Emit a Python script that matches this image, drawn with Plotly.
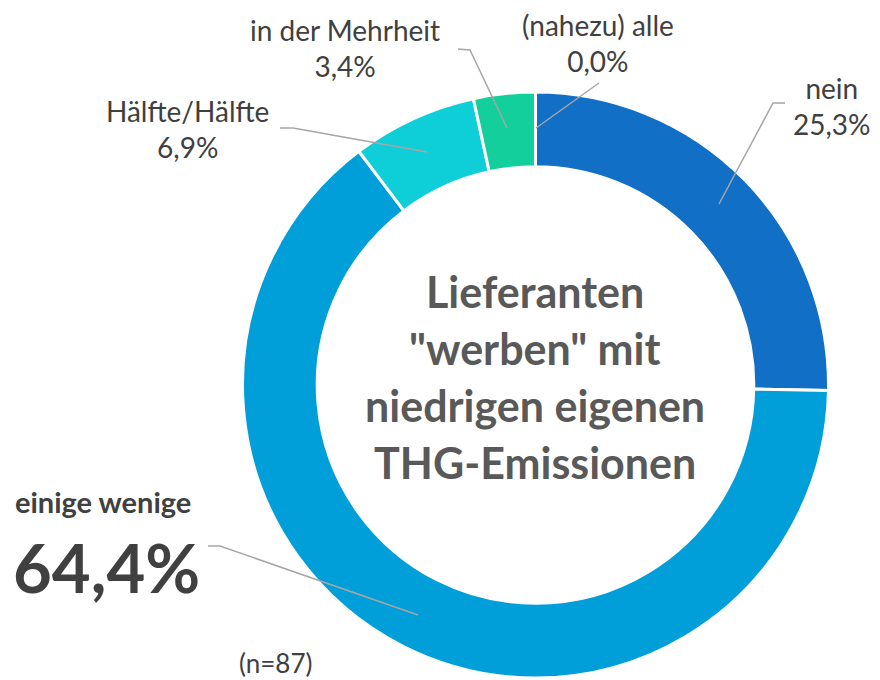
import plotly.graph_objects as go

# Survey answers (share of respondents, %)
categories = ["nein", "einige wenige", "Hälfte/Hälfte", "in der Mehrheit", "(nahezu) alle"]
shares = [25.3, 64.4, 6.9, 3.4, 0.0]
value_labels = ["25,3%", "64,4%", "6,9%", "3,4%", "0,0%"]
slice_colors = ["#116FC6", "#009FD9", "#0ECFD8", "#12CF9B", "#0B5FA8"]

center_lines = ["Lieferanten", "\"werben\" mit", "niedrigen eigenen", "THG-Emissionen"]
sample_note = "(n=87)"

W, H = 880, 680
FONT = "Lato"
TEXT = "#404040"
LEADER = "#A6A6A6"


def px(x, y):
    """Convert pixel position to paper coordinates."""
    return x / W, 1 - y / H


fig = go.Figure(
    go.Pie(
        labels=categories,
        values=shares,
        sort=False,
        direction="clockwise",
        rotation=0,
        hole=0.745,
        marker=dict(colors=slice_colors, line=dict(color="white", width=3)),
        textinfo="none",
        hoverinfo="label+percent",
        showlegend=False,
        domain=dict(x=[242 / W, 829 / W], y=[1 - 678 / H, 1 - 92 / H]),
    )
)

annotations = []


def label(x, y, text, size=28, bold=False, xanchor="center", color=TEXT):
    ax, ay = px(x, y)
    if bold:
        text = f"<b>{text}</b>"
    annotations.append(
        dict(
            x=ax, y=ay, xref="paper", yref="paper", text=text, showarrow=False,
            xanchor=xanchor, yanchor="middle", align="center",
            font=dict(family=FONT, size=size, color=color),
        )
    )


# Slice labels
label(832, 106, f"{categories[0]}<br>{value_labels[0]}")
label(187, 129, f"{categories[2]}<br>{value_labels[2]}")
label(345, 48, f"{categories[3]}<br>{value_labels[3]}")
label(598, 43, f"{categories[4]}<br>{value_labels[4]}")
label(13, 501, categories[1], size=29, bold=True, xanchor="left")
label(11, 567, value_labels[1], size=67, bold=True, xanchor="left")
label(275, 663, sample_note, size=26)

# Centre title
for i, line in enumerate(center_lines):
    label(535, 291 + i * 57.3, line, size=43, bold=True, color="#595959")

fig.update_layout(annotations=annotations)

# Leader lines from labels to slices
leaders = [
    [(785, 103), (773, 103), (719, 204)],
    [(599, 83), (536, 128)],
    [(458, 49), (470, 50), (507, 128)],
    [(280, 128), (293, 128), (427, 152)],
    [(208, 546), (220, 546), (418, 615)],
]
shapes = []
for pts in leaders:
    path = ""
    for j, (x, y) in enumerate(pts):
        ax, ay = px(x, y)
        path += ("M" if j == 0 else " L") + f" {ax:.5f},{ay:.5f}"
    shapes.append(
        dict(type="path", xref="paper", yref="paper", path=path,
             line=dict(color=LEADER, width=1.5))
    )

fig.update_layout(
    shapes=shapes,
    width=W,
    height=H,
    margin=dict(l=0, r=0, t=0, b=0),
    paper_bgcolor="white",
    plot_bgcolor="white",
)

fig.write_html("out.html")
